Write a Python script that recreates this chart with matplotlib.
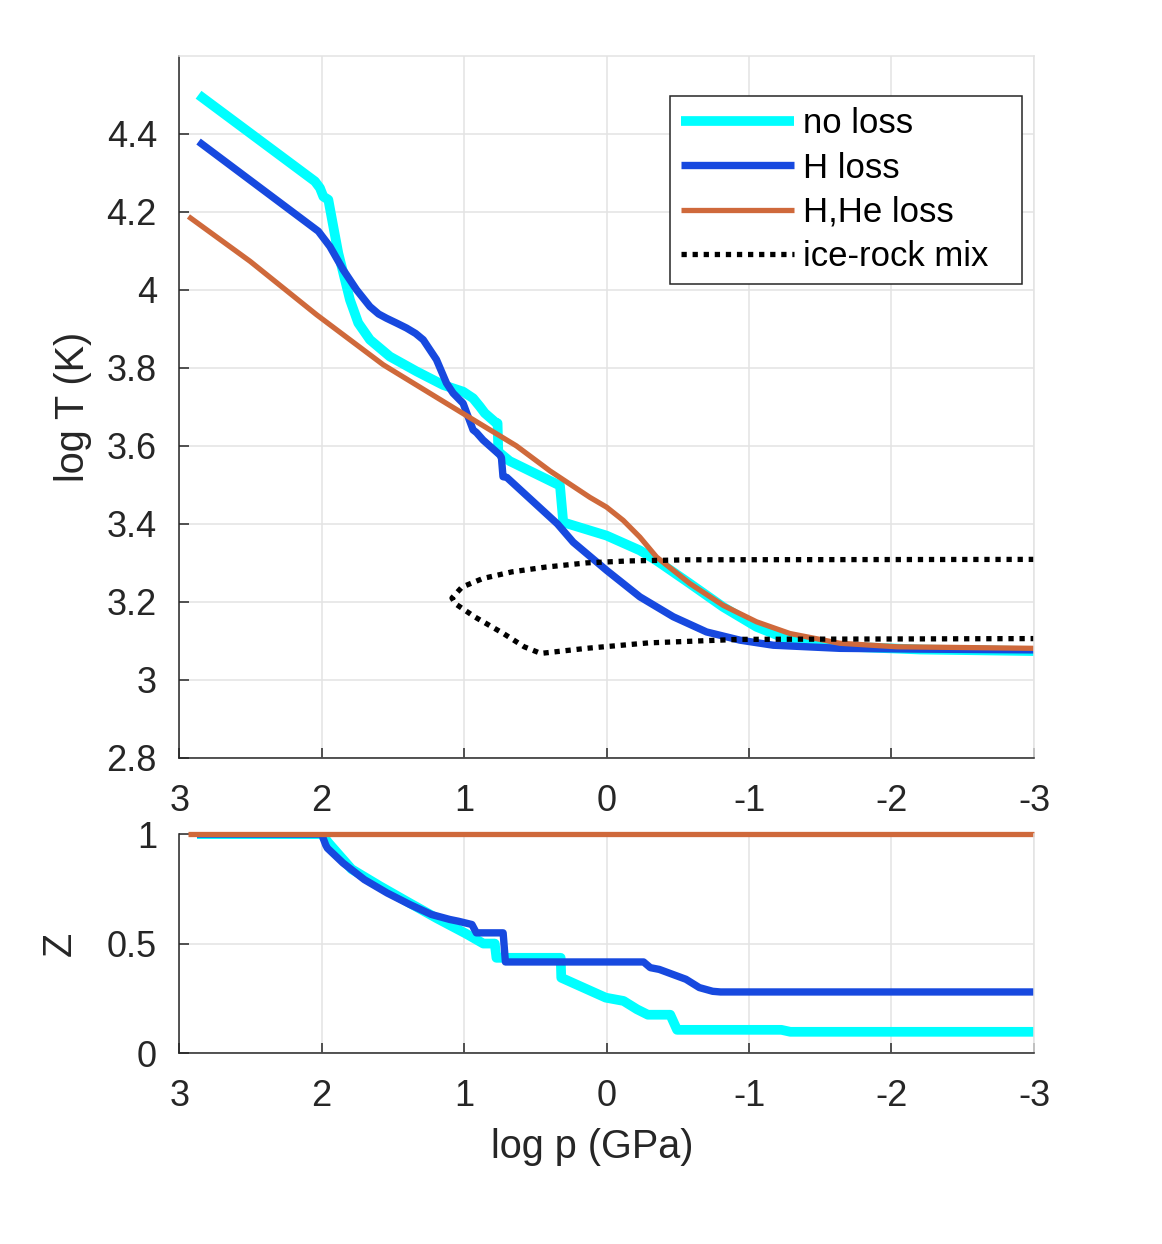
import matplotlib
matplotlib.use("Agg")
import matplotlib.pyplot as plt

plt.rcParams["font.family"] = ["Liberation Sans", "DejaVu Sans"]
plt.rcParams["axes.unicode_minus"] = False

# ---- values ----
x_ticks = [3, 2, 1, 0, -1, -2, -3]
x_ticklabels = ["3", "2", "1", "0", "-1", "-2", "-3"]
T_ticks = [2.8, 3.0, 3.2, 3.4, 3.6, 3.8, 4.0, 4.2, 4.4]
T_ticklabels = ["2.8", "3", "3.2", "3.4", "3.6", "3.8", "4", "4.2", "4.4"]
Z_ticks = [0, 0.5, 1]
Z_ticklabels = ["0", "0.5", "1"]

labels = ["no loss", "H loss", "H,He loss", "ice-rock mix"]

# log T vs log p
p_noloss = [2.864, 2.047, 2.012, 1.988, 1.953, 1.918, 1.883, 1.848, 1.801, 1.743,
            1.661, 1.521, 1.334, 1.147, 1.007, 0.937, 0.890, 0.855, 0.773, 0.765,
            0.760, 0.680, 0.327, 0.304, 0.0, -0.234, -0.351, -0.585, -0.819, -1.053,
            -1.287, -1.637, -2.2, -3.0]
T_noloss = [4.500, 4.278, 4.261, 4.239, 4.231, 4.162, 4.094, 4.043, 3.974, 3.915,
            3.872, 3.829, 3.791, 3.756, 3.739, 3.722, 3.701, 3.684, 3.658, 3.658,
            3.585, 3.561, 3.498, 3.404, 3.370, 3.332, 3.306, 3.247, 3.187, 3.136,
            3.102, 3.086, 3.078, 3.074]

p_hloss = [2.864, 2.023, 1.942, 1.848, 1.755, 1.661, 1.600, 1.544, 1.470, 1.404,
           1.340, 1.287, 1.194, 1.124, 1.077, 1.007, 0.937, 0.913, 0.867, 0.750,
           0.738, 0.727, 0.700, 0.345, 0.234, 0.0, -0.234, -0.468, -0.702, -0.936,
           -1.17, -1.637, -2.2, -3.0]
T_hloss = [4.380, 4.150, 4.111, 4.051, 4.000, 3.957, 3.938, 3.927, 3.914, 3.902,
           3.888, 3.872, 3.821, 3.761, 3.735, 3.709, 3.641, 3.634, 3.615, 3.577,
           3.570, 3.521, 3.519, 3.400, 3.353, 3.281, 3.213, 3.162, 3.123, 3.102,
           3.089, 3.081, 3.079, 3.077]

p_hheloss = [2.935, 2.502, 2.035, 1.568, 0.972, 0.633, 0.398, 0.117, 0.0, -0.117,
             -0.234, -0.351, -0.585, -0.819, -1.053, -1.287, -1.637, -2.04, -3.0]
T_hheloss = [4.188, 4.073, 3.936, 3.808, 3.675, 3.600, 3.536, 3.468, 3.443, 3.409,
             3.366, 3.315, 3.247, 3.191, 3.149, 3.119, 3.094, 3.085, 3.081]

p_mix = [-3.0, -0.585, -0.149, 0.142, 0.433, 0.665, 0.869, 1.015, 1.085, 1.060,
         0.927, 0.724, 0.578, 0.462, 0.142, -0.295, -0.936, -3.0]
T_mix = [3.309, 3.308, 3.305, 3.300, 3.289, 3.277, 3.260, 3.238, 3.210, 3.195,
         3.162, 3.119, 3.085, 3.068, 3.081, 3.095, 3.104, 3.106]

# Z vs log p
pz_noloss = [2.875, 2.0, 1.952, 1.79, 1.59, 1.39, 1.19, 0.986, 0.865, 0.785,
             0.773, 0.765, 0.322, 0.318, 0.006, -0.119, -0.213, -0.29, -0.447, -0.495,
             -1.227, -1.29, -3.0]
Z_noloss = [1.0, 1.0, 0.96, 0.84, 0.762, 0.688, 0.615, 0.545, 0.50, 0.50,
            0.435, 0.435, 0.435, 0.344, 0.253, 0.238, 0.200, 0.175, 0.175, 0.106,
            0.106, 0.097, 0.097]

pz_hloss = [2.875, 2.0, 1.972, 1.96, 1.85, 1.70, 1.54, 1.38, 1.23, 1.10,
            1.04, 0.945, 0.914, 0.726, 0.71, -0.26, -0.307, -0.37, -0.557, -0.651,
            -0.745, -0.80, -3.0]
Z_hloss = [1.0, 1.0, 0.951, 0.936, 0.868, 0.792, 0.731, 0.678, 0.633, 0.61,
           0.602, 0.587, 0.549, 0.549, 0.416, 0.416, 0.39, 0.382, 0.337, 0.299,
           0.282, 0.279, 0.279]

pz_hheloss = [2.937, -3.0]
Z_hheloss = [1.0, 1.0]

c_cyan = "#00FFFF"
c_blue = "#1749DF"
c_orange = "#CF693B"
dark = "#262626"
gridc = "#E3E3E3"

fig = plt.figure(figsize=(11.62, 12.44), dpi=100)
ax1 = fig.add_axes([0.1542, 0.3907, 0.7356, 0.5645])
ax2 = fig.add_axes([0.1542, 0.1535, 0.7356, 0.1760])


def style(ax):
    for s in ["left", "bottom"]:
        ax.spines[s].set_color(dark)
        ax.spines[s].set_linewidth(1.1)
    for s in ["top", "right"]:
        ax.spines[s].set_color(gridc)
        ax.spines[s].set_linewidth(1.1)
    ax.grid(True, color=gridc, linewidth=1.1)
    ax.set_axisbelow(True)
    ax.tick_params(direction="in", length=7, width=1.1, color=dark,
                   labelcolor=dark, labelsize=26, top=False, right=False)
    ax.tick_params(axis="x", pad=19)
    ax.tick_params(axis="y", pad=16)
    ax.set_xlim(3, -3)
    ax.set_xticks(x_ticks)
    ax.set_xticklabels(x_ticklabels)


style(ax1)
ax1.plot(p_noloss, T_noloss, color=c_cyan, lw=7, solid_capstyle="butt", label=labels[0])
ax1.plot(p_hloss, T_hloss, color=c_blue, lw=5.3, solid_capstyle="butt", label=labels[1])
ax1.plot(p_hheloss, T_hheloss, color=c_orange, lw=3.8, solid_capstyle="butt", label=labels[2])
ax1.plot(p_mix, T_mix, color="black", lw=3.8, linestyle=(0, (1, 1.1)),
         dash_capstyle="butt", label=labels[3])
ax1.set_ylim(2.8, 4.6)
ax1.set_yticks(T_ticks)
ax1.set_yticklabels(T_ticklabels)
ax1.set_ylabel("log T (K)", fontsize=28.5, color=dark)
ax1.yaxis.set_label_coords(-0.102, 0.5)

leg = ax1.legend(loc="upper left", bbox_to_anchor=(0.5742, 0.9426, 0.4118, 0.0),
                 mode="expand", fontsize=25,
                 handlelength=3.25, handletextpad=0.26, labelspacing=0.32,
                 borderpad=0.33, borderaxespad=0, fancybox=False, framealpha=1)
leg.get_frame().set_edgecolor(dark)
leg.get_frame().set_linewidth(1.1)
for t in leg.get_texts():
    t.set_color("black")

style(ax2)
ax2.spines["top"].set_visible(False)
ax2.plot(pz_noloss, Z_noloss, color=c_cyan, lw=7, solid_capstyle="butt")
ax2.plot(pz_hloss, Z_hloss, color=c_blue, lw=5.3, solid_capstyle="butt")
ax2.plot(pz_hheloss, Z_hheloss, color=c_orange, lw=3.8, solid_capstyle="butt", clip_on=False)
ax2.set_ylim(0, 1)
ax2.set_yticks(Z_ticks)
ax2.set_yticklabels(Z_ticklabels)
ax2.set_ylabel("Z", fontsize=28.5, color=dark)
ax2.yaxis.set_label_coords(-0.118, 0.5)
ax2.set_xlabel("log p (GPa)", fontsize=28.5, color=dark)
ax2.xaxis.set_label_coords(0.483, -0.342)
ax2.xaxis.label.set_va("top")

fig.savefig("out.png", dpi=100)
